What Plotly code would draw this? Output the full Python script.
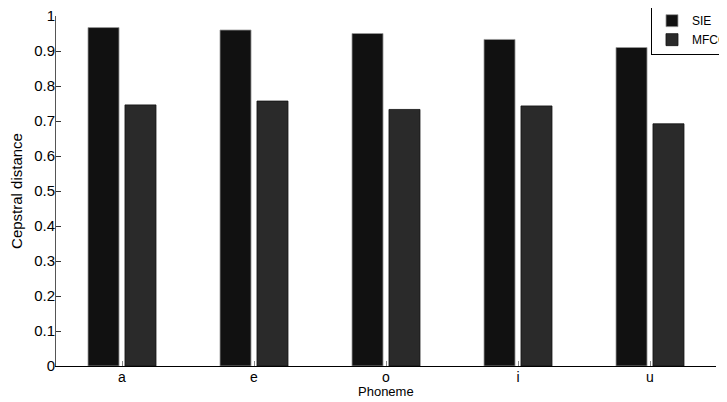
import plotly.graph_objects as go

phonemes = ["a", "e", "o", "i", "u"]
sie = [0.967, 0.960, 0.950, 0.933, 0.910]
mfcc = [0.746, 0.757, 0.733, 0.743, 0.692]
yticks = [0, 0.1, 0.2, 0.3, 0.4, 0.5, 0.6, 0.7, 0.8, 0.9, 1]
ytick_text = ["0", "0.1", "0.2", "0.3", "0.4", "0.5", "0.6", "0.7", "0.8", "0.9", "1"]

xpos = list(range(1, len(phonemes) + 1))
FONT = "Liberation Sans, Arial, Helvetica, sans-serif"

fig = go.Figure()
fig.add_trace(go.Bar(
    name="SIE", x=xpos, y=sie, width=0.235, offset=-0.2575,
    marker=dict(color="#111111", line=dict(color="#9a9a9a", width=0.8)),
))
fig.add_trace(go.Bar(
    name="MFCC", x=xpos, y=mfcc, width=0.235, offset=0.0225,
    marker=dict(color="#2a2a2a", line=dict(color="#111111", width=0.8)),
))

fig.update_layout(
    width=727, height=402,
    margin=dict(l=48, r=19, t=8, b=44, autoexpand=False),
    paper_bgcolor="white", plot_bgcolor="white",
    barmode="overlay",
    font=dict(family=FONT, size=13, color="black"),
    showlegend=True,
    legend=dict(
        x=0.9015, y=1.031, xanchor="left", yanchor="top",
        bgcolor="white", bordercolor="black", borderwidth=1,
        font=dict(family=FONT, size=12, color="black"),
        tracegroupgap=0, itemwidth=30,
    ),
    xaxis=dict(
        range=[0.5, 5.5], tickmode="array", tickvals=xpos, ticktext=phonemes,
        ticks="inside", ticklen=5, tickcolor="#888888", tickwidth=1,
        showline=True, linecolor="black", linewidth=1, mirror=False,
        showgrid=False, zeroline=False, automargin=False,
        ticklabeloverflow="allow", ticklabelstandoff=-2,
        tickfont=dict(family=FONT, size=14),
    ),
    yaxis=dict(
        range=[0, 1], tickmode="array", tickvals=yticks, ticktext=ytick_text,
        ticks="inside", ticklen=5, tickcolor="#333333", tickwidth=1,
        showline=True, linecolor="#555555", linewidth=1, mirror=False,
        showgrid=False, zeroline=False, automargin=False,
        ticklabelstandoff=-3, ticklabeloverflow="allow",
        tickfont=dict(family=FONT, size=15),
        title=dict(text="Cepstral distance", font=dict(family=FONT, size=15), standoff=8),
    ),
    annotations=[dict(
        text="Phoneme", xref="paper", yref="paper", x=0.5, y=0,
        xanchor="center", yanchor="middle", yshift=-25, showarrow=False,
        font=dict(family=FONT, size=13, color="black"),
    )],
)

fig.write_html("out.html")
